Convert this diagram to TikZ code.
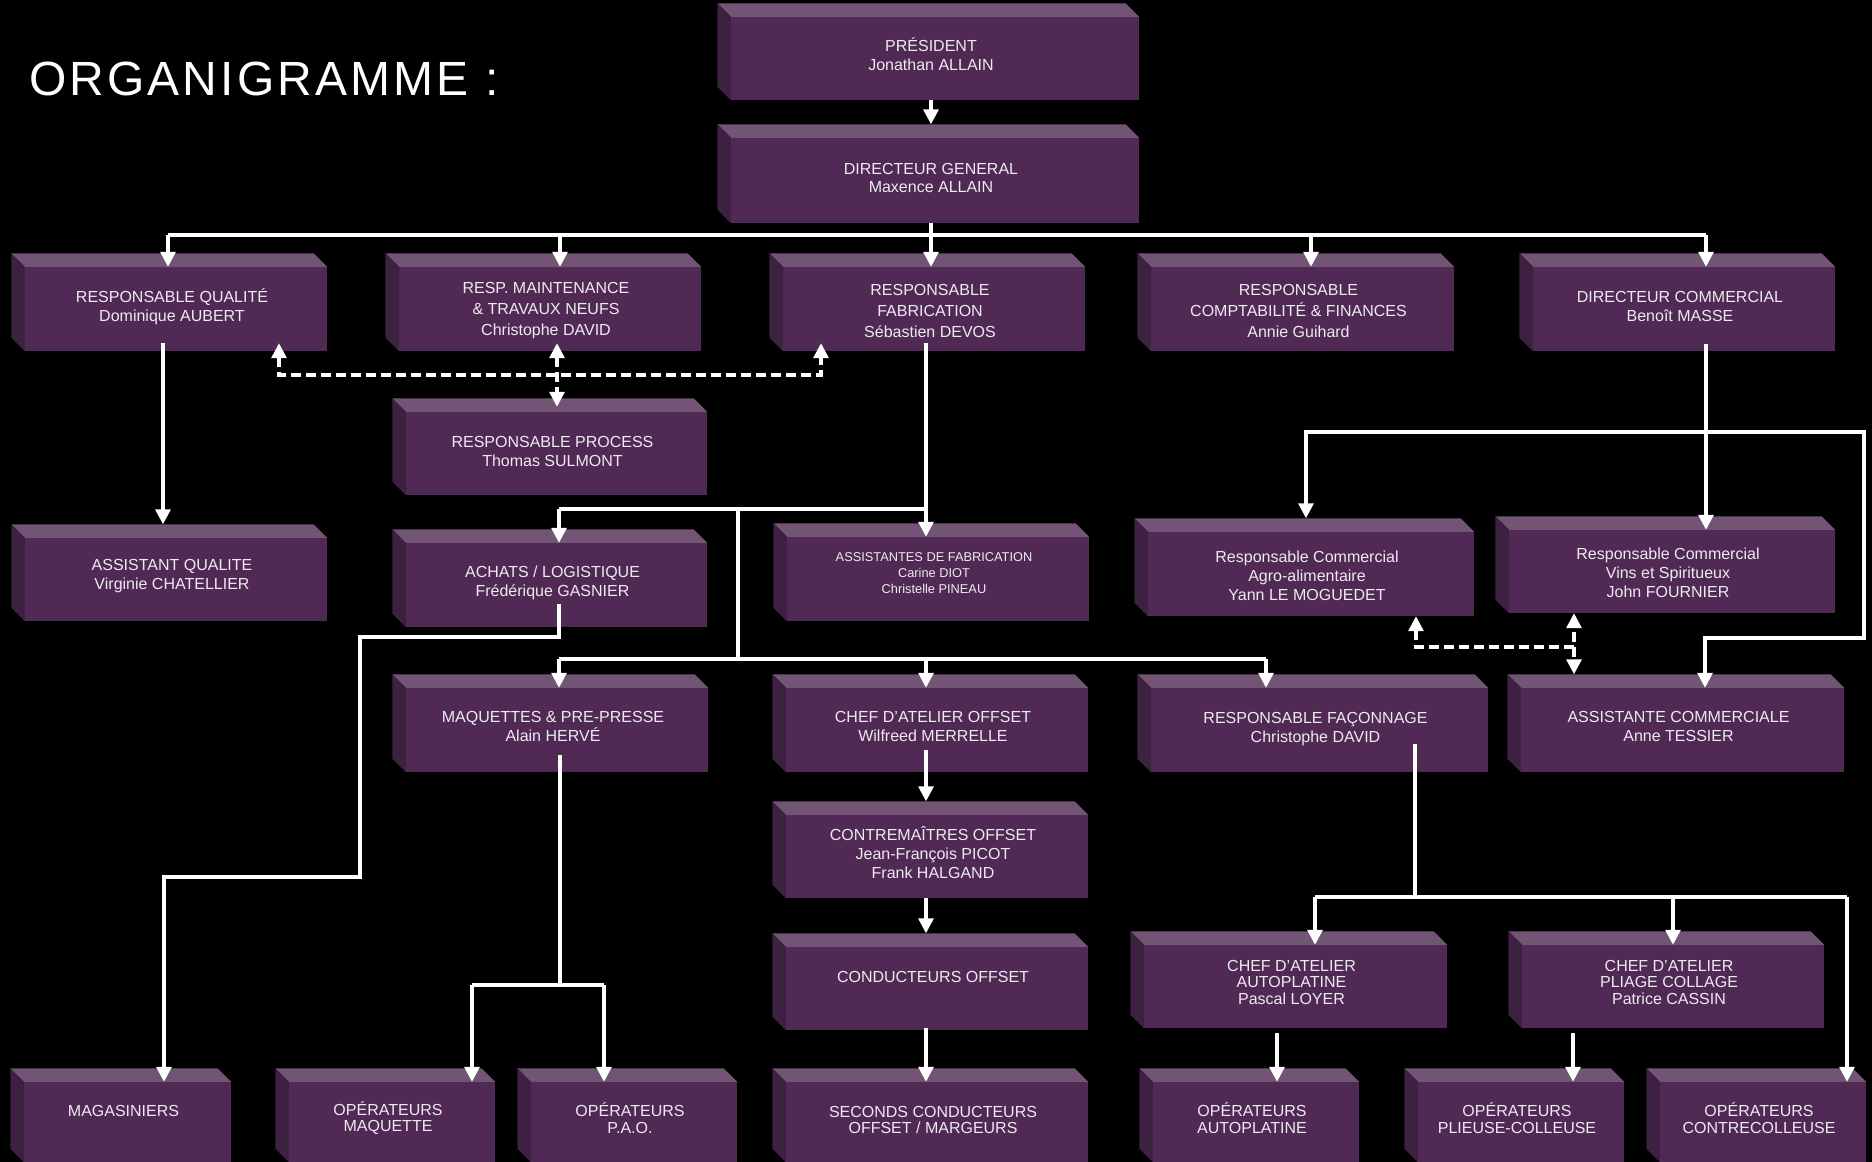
\documentclass[tikz,border=0pt]{standalone}
\usepackage{fontspec}
\setmainfont{Liberation Sans}
\newfontfamily\titlefam[LetterSpace=6.5]{Liberation Sans}
\usetikzlibrary{arrows.meta}
\definecolor{boxfront}{RGB}{80,42,85}
\definecolor{boxtop}{RGB}{114,84,117}
\definecolor{boxside}{RGB}{61,33,65}
\definecolor{boxtext}{RGB}{238,234,238}
\tikzset{
  orgbox/.style={fill=boxfront, inner sep=0pt},
  boxlabel/.style={inner sep=0pt, align=center, text=boxtext, font=\fontsize{16}{19}\selectfont},
  twoline/.style={font=\fontsize{16}{18.5}\selectfont},
  threeline/.style={font=\fontsize{16}{21}\selectfont, yshift=-5.5pt},
  tightline/.style={font=\fontsize{16}{16}\selectfont, yshift=0.5pt},
  botbox/.style={font=\fontsize{16}{16.5}\selectfont, yshift=0.3pt},
  ln/.style={draw=white, line width=3.2pt},
  arr/.style={ln, -{Triangle[length=15pt,width=15pt]}},
  dline/.style={ln, dash pattern=on 10pt off 5pt},
  darr/.style={dline, {Triangle[length=15pt,width=15pt]}-{Triangle[length=15pt,width=15pt]}},
}
\newcommand\obox[7][]{%
  \node[orgbox, minimum width={#5-#3}, minimum height={#6-#4}] (#2) at ({(#3+#5)/2},{(#4+#6)/2}) {};
  \fill[boxtop] (#2.north west) -- ++(-13.5,-13.5) -- ([xshift=-13.5pt,yshift=13.5pt]#2.north east) -- (#2.north east) -- cycle;
  \fill[boxside] (#2.north west) -- ++(-13.5,-13.5) -- ([xshift=-13.5pt,yshift=13.5pt]#2.south west) -- (#2.south west) -- cycle;
  \coordinate (#2T) at ([yshift=13.5pt]#2.north);
  \node[boxlabel, xshift=-4pt, yshift=3.5pt, #1] (#2txt) at (#2.center) {#7};
}
\begin{document}
\begin{tikzpicture}[x=1pt,y=-1pt]
\useasboundingbox (0,0) rectangle (1872,1162);
\clip (0,0) rectangle (1872,1162);
\fill[black] (0,0) rectangle (1872,1162);

\node[anchor=base west, text=white, inner sep=0pt, font=\titlefam\fontsize{48}{56}\selectfont] (title) at (29,95) {ORGANIGRAMME :};

% boxes
\obox[twoline, yshift=1pt]{pres}{731}{17}{1139}{100}{PRÉSIDENT\\Jonathan ALLAIN}
\obox[twoline, yshift=-1pt]{dg}{731}{138}{1139}{223}{DIRECTEUR GENERAL\\Maxence ALLAIN}
\obox[twoline, yshift=-1pt]{rq}{25}{267}{327}{351}{RESPONSABLE QUALITÉ\\Dominique AUBERT}
\obox[threeline]{maint}{399}{267}{701}{351}{RESP. MAINTENANCE\\\& TRAVAUX NEUFS\\Christophe DAVID}
\obox[threeline]{fab}{783}{267}{1085}{351}{RESPONSABLE\\FABRICATION\\Sébastien DEVOS}
\obox[threeline]{compta}{1151}{267}{1454}{351}{RESPONSABLE\\COMPTABILITÉ \& FINANCES\\Annie Guihard}
\obox[twoline, yshift=-1pt]{dcom}{1533}{267}{1835}{351}{DIRECTEUR COMMERCIAL\\Benoît MASSE}
\obox[twoline, yshift=-1.5pt]{proc}{406}{412}{707}{495}{RESPONSABLE PROCESS\\Thomas SULMONT}
\obox{aq}{25}{538}{327}{621}{ASSISTANT QUALITE\\Virginie CHATELLIER}
\obox[twoline, yshift=-1.5pt]{achats}{406}{543}{707}{627}{ACHATS / LOGISTIQUE\\Frédérique GASNIER}
\obox[font=\fontsize{12.8}{16}\selectfont, yshift=-5.5pt]{asfab}{787}{537}{1089}{621}{ASSISTANTES DE FABRICATION\\Carine DIOT\\Christelle PINEAU\\\mbox{}}
\obox[yshift=-5pt]{agro}{1148}{532}{1474}{616}{Responsable Commercial\\Agro-alimentaire\\Yann LE MOGUEDET}
\obox[yshift=-5pt]{vins}{1509}{530}{1835}{613}{Responsable Commercial\\Vins et Spiritueux\\John FOURNIER}
\obox{maq}{406}{688}{708}{772}{MAQUETTES \& PRE-PRESSE\\Alain HERVÉ}
\obox{chefoff}{786}{688}{1088}{772}{CHEF D’ATELIER OFFSET\\Wilfreed MERRELLE}
\obox[yshift=-2.5pt]{fac}{1151}{688}{1488}{772}{RESPONSABLE FAÇONNAGE\\Christophe DAVID}
\obox{ascom}{1521}{688}{1844}{772}{ASSISTANTE COMMERCIALE\\Anne TESSIER}
\obox{contre}{786}{815}{1088}{898}{CONTREMAÎTRES OFFSET\\Jean-François PICOT\\Frank HALGAND}
\obox[yshift=-1pt]{cond}{786}{947}{1088}{1030}{CONDUCTEURS OFFSET\\\mbox{}}
\obox[tightline]{chefauto}{1144}{945}{1447}{1028}{CHEF D’ATELIER\\AUTOPLATINE\\[1.5pt]Pascal LOYER}
\obox[tightline]{chefpli}{1522}{945}{1824}{1028}{CHEF D’ATELIER\\PLIAGE COLLAGE\\[1.5pt]Patrice CASSIN}
\obox[botbox, yshift=-1.3pt]{mag}{24}{1082}{231}{1162}{MAGASINIERS\\\mbox{}}
\obox[botbox]{opmaq}{289}{1082}{495}{1162}{OPÉRATEURS\\MAQUETTE}
\obox[botbox]{oppao}{531}{1082}{737}{1162}{OPÉRATEURS\\P.A.O.}
\obox[botbox, yshift=-1.8pt]{second}{786}{1082}{1088}{1162}{SECONDS CONDUCTEURS\\OFFSET / MARGEURS}
\obox[botbox]{opauto}{1153}{1082}{1359}{1162}{OPÉRATEURS\\AUTOPLATINE}
\obox[botbox]{oppli}{1418}{1082}{1624}{1162}{OPÉRATEURS\\PLIEUSE-COLLEUSE}
\obox[botbox]{opcontre}{1660}{1082}{1866}{1162}{OPÉRATEURS\\CONTRECOLLEUSE}

% junction coordinates
\coordinate (c0) at (931,235);
\coordinate (b1) at (168,235);
\coordinate (b2) at (560,235);
\coordinate (b4) at (1311,235);
\coordinate (b5) at (1706,235);
\coordinate (d1) at (279,375);
\coordinate (d2) at (821,375);
\coordinate (d3) at (557,375);
\coordinate (cq) at (163,440);
\coordinate (f1) at (926,509);
\coordinate (f2) at (559,509);
\coordinate (f3) at (738,509);
\coordinate (f4) at (738,659);
\coordinate (f5) at (559,659);
\coordinate (f6) at (1266,659);
\coordinate (f7) at (926,659);
\coordinate (a1) at (559,637);
\coordinate (a2) at (360,637);
\coordinate (a3) at (360,877);
\coordinate (a4) at (164,877);
\coordinate (m1) at (560,985);
\coordinate (m2) at (472,985);
\coordinate (m3) at (604,985);
\coordinate (g1) at (1415,897);
\coordinate (g2) at (1315,897);
\coordinate (g3) at (1673,897);
\coordinate (g4) at (1847,897);
\coordinate (h1) at (1277,1055);
\coordinate (h2) at (1573,1055);
\coordinate (r1) at (1306,432);
\coordinate (r2) at (1864,432);
\coordinate (r3) at (1864,638);
\coordinate (r4) at (1705,638);
\coordinate (s1) at (1416,647);
\coordinate (s2) at (1574,647);

% connectors
\draw[arr] (pres.south -| c0) -- (dgT -| c0);
\draw[ln] (dg.south -| c0) -- (c0);
\draw[ln] (b1) -- (b5);
\draw[arr] (b1) -- (rq.north -| b1);
\draw[arr] (b2) -- (maint.north -| b2);
\draw[arr] (c0) -- (fab.north -| c0);
\draw[arr] (b4) -- (compta.north -| b4);
\draw[arr] (b5) -- (dcom.north -| b5);

\draw[darr, shorten <=-8pt, shorten >=-8pt] (rq.south -| d1) -- (d1) -- (d2) -- (fab.south -| d2);
\draw[darr, shorten <=-8pt, shorten >=5pt] (maint.south -| d3) -- (proc.north -| d3);

\draw[arr, shorten <=-8pt] (rq.south -| cq) -- (aqT -| cq);

\draw[arr, shorten <=-8pt] (fab.south -| f1) -- (asfab.north -| f1);
\draw[ln] (f1) -- (f2);
\draw[arr] (f2) -- (achats.north -| f2);
\draw[ln] (f3) -- (f4);
\draw[ln] (f5) -- (f6);
\draw[arr] (f5) -- (maq.north -| f5);
\draw[arr] (f7) -- (chefoff.north -| f7);
\draw[arr] (f6) -- (fac.north -| f6);

\draw[arr, shorten <=-23pt] (achats.south -| a1) -- (a1) -- (a2) -- (a3) -- (a4) -- (mag.north -| a4);

\draw[ln, shorten <=-17pt] (maq.south -| m1) -- (m1);
\draw[ln] (m2) -- (m3);
\draw[arr] (m2) -- (opmaq.north -| m2);
\draw[arr] (m3) -- (oppao.north -| m3);

\draw[arr, shorten <=-22pt] (chefoff.south -| f7) -- (contreT -| f7);
\draw[arr] (contre.south -| f7) -- (condT -| f7);
\draw[arr, shorten <=-2pt] (cond.south -| f7) -- (second.north -| f7);

\draw[ln, shorten <=-28pt] (fac.south -| g1) -- (g1);
\draw[ln] (g2) -- (g4);
\draw[arr] (g2) -- (chefauto.north -| g2);
\draw[arr] (g3) -- (chefpli.north -| g3);
\draw[arr] (g4) -- (opcontre.north -| g4);
\draw[arr, shorten <=5pt] (chefauto.south -| h1) -- (opauto.north -| h1);
\draw[arr, shorten <=5pt] (chefpli.south -| h2) -- (oppli.north -| h2);

\draw[arr, shorten <=-7pt] (dcom.south -| b5) -- (vins.north -| b5);
\draw[ln, {Triangle[length=15pt,width=15pt]}-{Triangle[length=15pt,width=15pt]}] (agroT -| r1) -- (r1) -- (r2) -- (r3) -- (r4) -- (ascom.north -| r4);
\draw[darr] (agro.south -| s1) -- (s1) -- (s2) -- (vins.south -| s2);
\draw[dline, -{Triangle[length=15pt,width=15pt]}] (s2) -- (ascomT -| s2);
\end{tikzpicture}
\end{document}
